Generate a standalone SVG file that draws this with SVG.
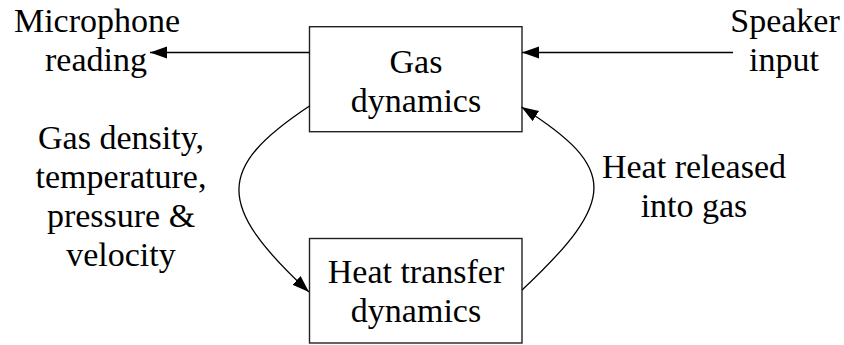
<svg xmlns="http://www.w3.org/2000/svg" width="844" height="345" viewBox="0 0 844 345" font-family="Times New Roman, Liberation Serif, serif">
<defs>
<marker id="ah" markerUnits="userSpaceOnUse" markerWidth="20" markerHeight="14" refX="17" refY="6" orient="auto">
<path d="M0,0 L17,6 L0,12 Z" fill="#000"/>
</marker>
</defs>
<rect width="844" height="345" fill="#fff"/>
<g id="gas">
<rect x="309.5" y="26.7" width="212.5" height="105" fill="#fff" stroke="#222" stroke-width="1.4"/>
<text x="416" y="72.5" font-family="Times New Roman, Liberation Serif, serif" font-size="34" text-anchor="middle">Gas</text>
<text x="416" y="111.5" font-family="Times New Roman, Liberation Serif, serif" font-size="34" text-anchor="middle">dynamics</text>
</g>
<g id="heat">
<rect x="309.5" y="238.5" width="212.5" height="104.5" fill="#fff" stroke="#222" stroke-width="1.4"/>
<text x="416" y="283" font-family="Times New Roman, Liberation Serif, serif" font-size="34" text-anchor="middle">Heat transfer</text>
<text x="416" y="322" font-family="Times New Roman, Liberation Serif, serif" font-size="34" text-anchor="middle">dynamics</text>
</g>
<g id="microphone">
<text x="97" y="32" font-family="Times New Roman, Liberation Serif, serif" font-size="34" text-anchor="middle">Microphone</text>
<text x="96" y="71" font-family="Times New Roman, Liberation Serif, serif" font-size="34" text-anchor="middle">reading</text>
</g>
<g id="speaker">
<text x="785" y="31.5" font-family="Times New Roman, Liberation Serif, serif" font-size="34" text-anchor="middle">Speaker</text>
<text x="784" y="71" font-family="Times New Roman, Liberation Serif, serif" font-size="34" text-anchor="middle">input</text>
</g>
<g id="label-left">
<text x="121" y="149" font-family="Times New Roman, Liberation Serif, serif" font-size="34" text-anchor="middle">Gas density,</text>
<text x="121" y="188" font-family="Times New Roman, Liberation Serif, serif" font-size="34" text-anchor="middle">temperature,</text>
<text x="121" y="227" font-family="Times New Roman, Liberation Serif, serif" font-size="34" text-anchor="middle">pressure &amp;</text>
<text x="121" y="266" font-family="Times New Roman, Liberation Serif, serif" font-size="34" text-anchor="middle">velocity</text>
</g>
<g id="label-right">
<text x="694" y="178" font-family="Times New Roman, Liberation Serif, serif" font-size="34" text-anchor="middle">Heat released</text>
<text x="694" y="217" font-family="Times New Roman, Liberation Serif, serif" font-size="34" text-anchor="middle">into gas</text>
</g>
<g id="connectors" fill="none" stroke="#000" stroke-width="1.3">
<path d="M309.5,52.5 L150,52.5" marker-end="url(#ah)"/>
<path d="M733,52.5 L522,52.5" marker-end="url(#ah)"/>
<path d="M309.5,106 C216,168 215,205 309,292" marker-end="url(#ah)"/>
<path d="M522,290 C618,200 618,168 521.5,107" marker-end="url(#ah)"/>
</g>
</svg>
